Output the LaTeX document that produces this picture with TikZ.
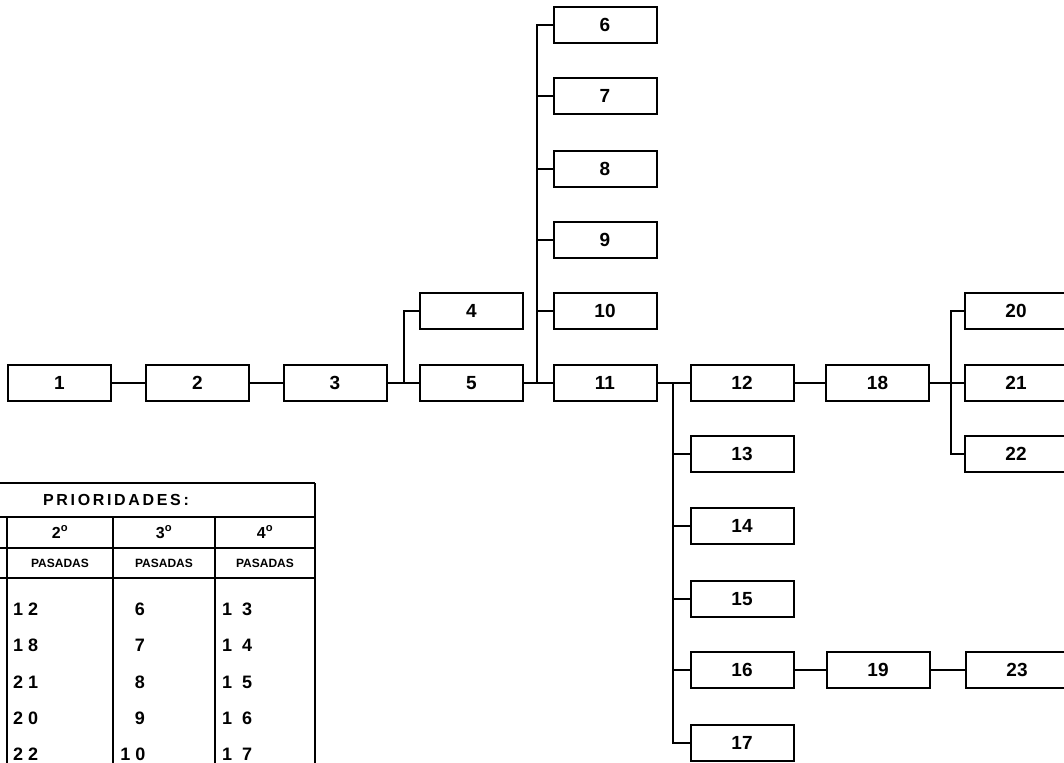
\documentclass[tikz,border=0pt]{standalone}
\usepackage{fontspec}
\setmainfont{Liberation Sans}
\begin{document}
\begin{tikzpicture}[x=1pt,y=-1pt,
  line width=1.8pt,
  blk/.style={draw=black, line width=2pt, minimum width=103pt, minimum height=36pt, inner sep=0pt,
    font=\fontsize{19}{19}\selectfont\bfseries},
  conn/.style={draw=black, line width=1.8pt},
  tline/.style={draw=black, line width=1.8pt},
  ttitle/.style={font=\fontsize{16}{16}\selectfont\bfseries},
  thead/.style={font=\fontsize{16}{16}\selectfont\bfseries},
  tsmall/.style={font=\fontsize{12}{12}\selectfont\bfseries},
  tdata/.style={font=\fontsize{18}{18}\selectfont\bfseries}
]
\useasboundingbox (0,0) rectangle (1064,762);
\clip (0,0) rectangle (1064,762);
\fill[white] (0,0) rectangle (1064,762);

% blocks
\node[blk] (n1)  at (59.5,383) {1};
\node[blk] (n2)  at (197.5,383) {2};
\node[blk] (n3)  at (335,383) {3};
\node[blk] (n4)  at (471.5,311) {4};
\node[blk] (n5)  at (471.5,383) {5};
\node[blk] (n6)  at (605,25) {6};
\node[blk] (n7)  at (605,96) {7};
\node[blk] (n8)  at (605,169) {8};
\node[blk] (n9)  at (605,240) {9};
\node[blk] (n10) at (605,311) {10};
\node[blk] (n11) at (605,383) {11};
\node[blk] (n12) at (742,383) {12};
\node[blk] (n13) at (742,454) {13};
\node[blk] (n14) at (742,526) {14};
\node[blk] (n15) at (742,599) {15};
\node[blk] (n16) at (742,670) {16};
\node[blk] (n17) at (742,743) {17};
\node[blk] (n18) at (877.5,383) {18};
\node[blk] (n19) at (878,670) {19};
\node[blk] (n20) at (1016,311) {20};
\node[blk] (n21) at (1016,383) {21};
\node[blk] (n22) at (1016,454) {22};
\node[blk] (n23) at (1017,670) {23};

% junctions
\coordinate (j3) at (404,383);
\coordinate (j5) at (537,383);
\coordinate (j11) at (673,383);
\coordinate (j18) at (951,383);

% connectors
\draw[conn] (n1.east) -- (n2.west);
\draw[conn] (n2.east) -- (n3.west);
\draw[conn] (n3.east) -- (n5.west);
\draw[conn] (j3) |- (n4.west);
\draw[conn] (n5.east) -- (n11.west);
\draw[conn] (j5) |- (n6.west);
\draw[conn] (j5) |- (n7.west);
\draw[conn] (j5) |- (n8.west);
\draw[conn] (j5) |- (n9.west);
\draw[conn] (j5) |- (n10.west);
\draw[conn] (n11.east) -- (n12.west);
\draw[conn] (j11) |- (n13.west);
\draw[conn] (j11) |- (n14.west);
\draw[conn] (j11) |- (n15.west);
\draw[conn] (j11) |- (n16.west);
\draw[conn] (j11) |- (n17.west);
\draw[conn] (n12.east) -- (n18.west);
\draw[conn] (n18.east) -- (n21.west);
\draw[conn] (j18) |- (n20.west);
\draw[conn] (j18) |- (n22.west);
\draw[conn] (n16.east) -- (n19.west);
\draw[conn] (n19.east) -- (n23.west);

% table
\draw[tline] (0,483) -- (315,483);
\draw[tline] (0,517) -- (315,517);
\draw[tline] (0,548) -- (315,548);
\draw[tline] (0,578) -- (315,578);
\draw[tline] (315,483) -- (315,770);
\draw[tline] (7,517) -- (7,770);
\draw[tline] (113,517) -- (113,770);
\draw[tline] (215,517) -- (215,770);

\node[ttitle] (title) at (116,500) {P\,R\,I\,O\,R\,I\,D\,A\,D\,E\,S\,:};
\node[thead] (h2) at (60,532) {2\textsuperscript{o}};
\node[thead] (h3) at (164,532) {3\textsuperscript{o}};
\node[thead] (h4) at (265,532) {4\textsuperscript{o}};
\node[tsmall] (p2) at (60,563) {PASADAS};
\node[tsmall] (p3) at (164,563) {PASADAS};
\node[tsmall] (p4) at (265,563) {PASADAS};

\node[tdata, anchor=west] (a1) at (9,609) {1 2};
\node[tdata, anchor=west] (a2) at (9,645) {1 8};
\node[tdata, anchor=west] (a3) at (9,682) {2 1};
\node[tdata, anchor=west] (a4) at (9,718) {2 0};
\node[tdata, anchor=west] (a5) at (9,754) {2 2};

\node[tdata] (b1) at (140,609) {6};
\node[tdata] (b2) at (140,645) {7};
\node[tdata] (b3) at (140,682) {8};
\node[tdata] (b4) at (140,718) {9};
\node[tdata] (b5) at (133,754) {1 0};

\node[tdata, anchor=west] (c1) at (218,609) {1 \ 3};
\node[tdata, anchor=west] (c2) at (218,645) {1 \ 4};
\node[tdata, anchor=west] (c3) at (218,682) {1 \ 5};
\node[tdata, anchor=west] (c4) at (218,718) {1 \ 6};
\node[tdata, anchor=west] (c5) at (218,754) {1 \ 7};
\end{tikzpicture}
\end{document}
